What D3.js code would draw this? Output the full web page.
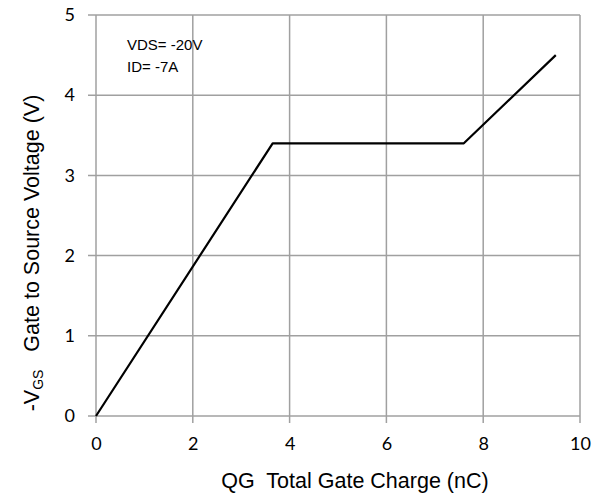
<!DOCTYPE html>
<html>
<head>
<meta charset="utf-8">
<script src="https://cdn.jsdelivr.net/npm/d3@7"></script>
<style>
  body { margin: 0; background: #fff; }
  svg { display: block; }
</style>
</head>
<body>
<div id="root"></div>
<script>
// gate charge curve (nC, V)
const charge = [0, 3.65, 7.6, 9.5];
const voltage = [0, 3.4, 3.4, 4.5];
const xTicks = [0, 2, 4, 6, 8, 10];
const yTicks = [0, 1, 2, 3, 4, 5];
const notes = ['VDS= -20V', 'ID= -7A'];

const width = 600, height = 496;
const margin = { left: 96, right: 20, top: 15, bottom: 80 };

const svg = d3.select('#root').append('svg')
  .attr('width', width)
  .attr('height', height);

const x = d3.scaleLinear().domain([0, 10]).range([margin.left, width - margin.right]);
const y = d3.scaleLinear().domain([0, 5]).range([height - margin.bottom, margin.top]);

const gridColor = '#a0a0a0';
const tickFont = 'Lato, "Open Sans", sans-serif';
const titleFont = '"Liberation Sans", Arial, sans-serif';

// grid
svg.append('g').selectAll('line').data(xTicks).join('line')
  .attr('x1', d => x(d)).attr('x2', d => x(d))
  .attr('y1', y(5)).attr('y2', y(0) + 7)
  .attr('stroke', gridColor).attr('stroke-width', 1.5);

svg.append('g').selectAll('line').data(yTicks).join('line')
  .attr('x1', x(0) - 8).attr('x2', x(10))
  .attr('y1', d => y(d)).attr('y2', d => y(d))
  .attr('stroke', gridColor).attr('stroke-width', 1.5);

// axes (labels only, lines drawn as grid)
const xAxis = svg.append('g')
  .attr('transform', `translate(0,${y(0)})`)
  .call(d3.axisBottom(x).tickValues(xTicks).tickFormat(d3.format('d')).tickSize(0).tickPadding(21));
xAxis.select('.domain').remove();
xAxis.selectAll('text').attr('font-family', tickFont).attr('font-size', 18).attr('fill', '#000');

const yAxis = svg.append('g')
  .attr('transform', `translate(${x(0)},0)`)
  .call(d3.axisLeft(y).tickValues(yTicks).tickFormat(d3.format('d')).tickSize(0).tickPadding(21));
yAxis.select('.domain').remove();
yAxis.selectAll('text').attr('font-family', tickFont).attr('font-size', 18).attr('fill', '#000');

// curve
const pts = charge.map((c, i) => [c, voltage[i]]);
svg.append('path')
  .datum(pts)
  .attr('fill', 'none')
  .attr('stroke', '#000')
  .attr('stroke-width', 2.2)
  .attr('stroke-linejoin', 'round')
  .attr('d', d3.line().x(d => x(d[0])).y(d => y(d[1])));

// annotation
svg.append('g').selectAll('text').data(notes).join('text')
  .attr('x', 127)
  .attr('y', (d, i) => 50 + i * 22)
  .attr('font-family', titleFont)
  .attr('font-size', 15)
  .text(d => d);

// x title
svg.append('text')
  .attr('x', 355).attr('y', 488)
  .attr('text-anchor', 'middle')
  .attr('font-family', titleFont)
  .attr('font-size', 21.5)
  .attr('xml:space', 'preserve')
  .text('QG  Total Gate Charge (nC)');

// y title
const yt = svg.append('text')
  .attr('transform', 'translate(39,253) rotate(-90)')
  .attr('text-anchor', 'middle')
  .attr('font-family', titleFont)
  .attr('font-size', 21.5)
  .attr('xml:space', 'preserve');
yt.append('tspan').text('-V');
yt.append('tspan').attr('font-size', 14).attr('dy', 4).text('GS');
yt.append('tspan').attr('dy', -4).text('   Gate to Source Voltage (V)');
</script>
</body>
</html>
